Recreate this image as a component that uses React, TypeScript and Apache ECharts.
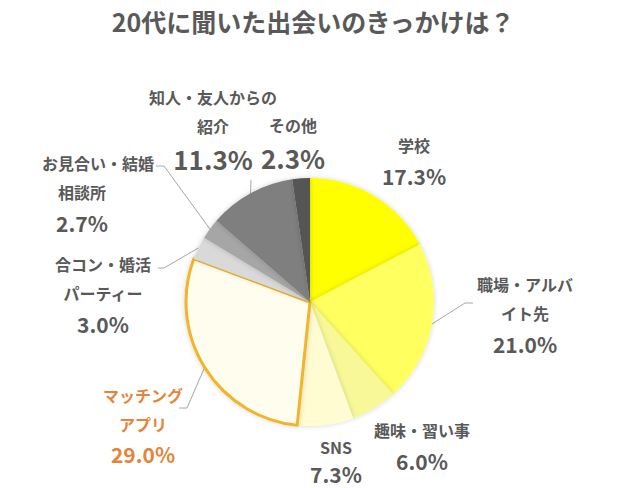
import React, { useEffect, useRef } from "react";
import * as echarts from "echarts";

const TITLE = "20代に聞いた出会いのきっかけは？";
const CATEGORIES = [
  "学校",
  "職場・アルバイト先",
  "趣味・習い事",
  "SNS",
  "マッチングアプリ",
  "合コン・婚活パーティー",
  "お見合い・結婚相談所",
  "知人・友人からの紹介",
  "その他",
];
const VALUES = [17.3, 21.0, 6.0, 7.3, 29.0, 3.0, 2.7, 11.3, 2.3];
const LABEL_LINES = [
  ["学校"],
  ["職場・アルバ", "イト先"],
  ["趣味・習い事"],
  ["SNS"],
  ["マッチング", "アプリ"],
  ["合コン・婚活", "パーティー"],
  ["お見合い・結婚", "相談所"],
  ["知人・友人からの", "紹介"],
  ["その他"],
];
const COLORS = [
  "#FFFF00",
  "#FFFF5E",
  "#F8F898",
  "#FFFCD2",
  "#FFFDEE",
  "#D9D9D9",
  "#A6A6A6",
  "#7F7F7F",
  "#555555",
];

// label block centres and guide-line elbows (layout only)
const LABEL_POS: [number, number][] = [
  [414, 161],
  [525, 314.5],
  [422, 446],
  [336, 458],
  [143, 425],
  [103, 294.5],
  [98, 193.5],
  [213, 129.5],
  [293, 143],
];
const GUIDE_ELBOWS: Record<number, [number, number][]> = {
  1: [[465, 303], [473, 303]],
  4: [[187, 408], [179, 408]],
  5: [[164, 268], [158, 268]],
  6: [[164, 166], [156, 166]],
  7: [[251, 180]],
};

const FONT = '"Noto Sans CJK JP", "Noto Sans", sans-serif';
const TEXT = "#595959";
const ORANGE = "#E4853A";
const GOLD = "#F2B42A";

export default function App() {
  const ref = useRef<HTMLDivElement>(null);
  useEffect(() => {
    if (!ref.current) return;
    const chart = echarts.init(ref.current, undefined, { renderer: "svg" });
    const cx = 310;
    const cy = 302;
    const R = 124;

    const data = CATEGORIES.map((name, i) => {
      const isMatch = i === 4;
      return {
        name,
        value: VALUES[i],
        itemStyle: {
          color: COLORS[i],
          borderWidth: isMatch ? 3 : 0,
          borderColor: isMatch ? GOLD : "transparent",
          shadowBlur: 5,
          shadowColor: "rgba(0,0,0,0.18)",
        },
        labelLine: { show: GUIDE_ELBOWS[i] != null },
      };
    });

    const total = VALUES.reduce((a, b) => a + b, 0);

    chart.setOption({
      animation: false,
      title: {
        text: TITLE,
        left: 308,
        textAlign: "center",
        top: 3,
        textStyle: { fontSize: 25, fontWeight: "bold", color: TEXT, fontFamily: FONT },
      },
      series: [
        {
          type: "pie",
          center: [cx, cy],
          radius: R,
          startAngle: 90,
          clockwise: true,
          avoidLabelOverlap: false,
          selectedMode: false,
          emphasis: { disabled: true },
          data,
          label: {
            show: true,
            position: "outside",
            overflow: "none",
            fontFamily: FONT,
            formatter: (p: any) => {
              const i = p.dataIndex;
              const lines = LABEL_LINES[i];
              const pct = p.value.toFixed(1) + "%";
              let nk = "n";
              let pk = "p";
              if (i === 4) { nk = "on"; pk = "op"; }
              if (i === 3) { nk = "sn"; pk = "sp"; }
              if (i === 7 || i === 8) pk = "b";
              if (i === 6) {
                return `{n|${lines[0]}}\n{ns|${lines[1]}}\n{ps|${pct}}`;
              }
              return lines.map((l) => `{${nk}|${l}}`).join("\n") + `\n{${pk}|${pct}}`;
            },
            rich: {
              n: { fontSize: 16, fontWeight: "bold", color: TEXT, lineHeight: 29, fontFamily: FONT },
              p: { fontSize: 21, fontWeight: "bold", color: TEXT, lineHeight: 32, fontFamily: FONT },
              b: { fontSize: 26, fontWeight: "bold", color: TEXT, lineHeight: 37, fontFamily: FONT },
              sn: { fontSize: 16, fontWeight: "bold", color: TEXT, lineHeight: 31, fontFamily: FONT },
              sp: { fontSize: 21, fontWeight: "bold", color: TEXT, lineHeight: 23, fontFamily: FONT },
              on: { fontSize: 16, fontWeight: "bold", color: ORANGE, lineHeight: 29, fontFamily: FONT },
              op: { fontSize: 21, fontWeight: "bold", color: ORANGE, lineHeight: 32, fontFamily: FONT },
              ns: { fontSize: 16, fontWeight: "bold", color: TEXT, lineHeight: 29, fontFamily: FONT, padding: [0, 32, 0, 0] },
              ps: { fontSize: 21, fontWeight: "bold", color: TEXT, lineHeight: 32, fontFamily: FONT, padding: [0, 32, 0, 0] },
            },
          },
          labelLine: {
            show: false,
            lineStyle: { color: "#A6A6A6", width: 1 },
          },
          labelLayout: (params: any) => {
            const i = params.dataIndex;
            const [x, y] = LABEL_POS[i];
            const out: any = { x, y, align: "center", verticalAlign: "middle" };
            const elbows = GUIDE_ELBOWS[i];
            if (elbows) {
              let start: number[];
              if (params.labelLinePoints && params.labelLinePoints[0]) {
                start = params.labelLinePoints[0];
              } else {
                let cum = 0;
                for (let k = 0; k < i; k++) cum += VALUES[k];
                const a = ((cum + VALUES[i] / 2) / total) * Math.PI * 2;
                start = [cx + R * Math.sin(a), cy - R * Math.cos(a)];
              }
              out.labelLinePoints = [start, ...elbows];
            }
            return out;
          },
        },
      ],
    });
    return () => chart.dispose();
  }, []);
  return (
    <div
      ref={ref}
      style={{ position: "fixed", left: 0, top: 0, width: 627, height: 488, background: "#fff" }}
    />
  );
}
